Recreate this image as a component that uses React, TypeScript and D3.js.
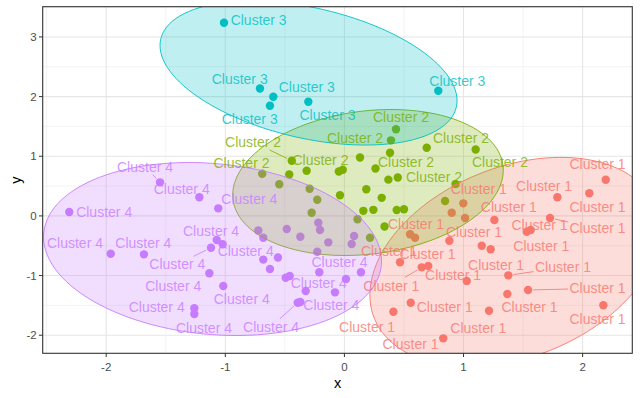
import React from 'react';
import * as d3 from 'd3';

const clusterNames = ['Cluster 1', 'Cluster 2', 'Cluster 3', 'Cluster 4'];
const clusterColors = ['#F8766D', '#7CAE00', '#00BFC4', '#C77CFF'];

const xTicks = [-2, -1, 0, 1, 2];
const yTicks = [-2, -1, 0, 1, 2, 3];
const xDomain = [-2.533, 2.417];
const yDomain = [-2.303, 3.507];

const cluster1Points: [number, number][] = [
  [2.194, 0.607], [2.056, 0.379], [1.788, 0.312], [1.726, -0.035], [1.531, -0.265],
  [1.564, -0.236], [1.259, -0.069], [1.013, -0.035], [0.998, 0.211], [0.901, 0.054],
  [0.881, -0.416], [1.153, -0.499], [1.228, -0.56], [0.551, -0.308], [0.593, -0.365],
  [0.467, -0.778], [0.649, -0.862], [0.704, -0.84], [1.027, -1.091], [1.376, -0.996],
  [1.542, -1.242], [1.368, -1.309], [2.174, -1.498], [1.214, -1.589], [0.557, -1.455],
  [0.411, -1.606], [0.83, -2.052],
];
const cluster2Points: [number, number][] = [
  [-0.442, 0.925], [-0.463, 0.694], [-0.317, 0.756], [-0.69, 0.706], [-0.547, 0.531],
  [-0.292, 0.456], [-0.228, 0.27], [-0.275, 0.052], [0.11, -0.055], [-0.037, 0.347],
  [0.184, 0.446], [-0.047, 0.744], [-0.014, 0.774], [0.131, 0.979], [0.261, 0.794],
  [0.369, 0.608], [0.448, 0.644], [0.313, 0.303], [0.159, 0.085], [0.243, 0.102],
  [0.383, 1.059], [0.391, 1.267], [0.433, 1.453], [0.337, -0.178], [0.439, 0.099],
  [0.5, 0.111], [0.691, 1.143], [1.102, 1.113], [0.215, -0.365], [0.845, 0.25],
  [0.933, 0.535],
];
const cluster3Points: [number, number][] = [
  [-1.011, 3.238], [-0.709, 2.135], [-0.597, 1.998], [-0.625, 1.847], [-0.303, 1.914],
  [0.788, 2.099],
];
const cluster4Points: [number, number][] = [
  [-2.31, 0.065], [-1.548, 0.563], [-1.218, 0.312], [-1.059, 0.127], [-1.962, -0.634],
  [-1.683, -0.644], [-1.072, -0.404], [-1.022, -0.476], [-1.12, -0.533], [-1.134, -0.962],
  [-1.017, -1.175], [-1.26, -1.549], [-1.26, -1.644], [-0.723, -0.245], [-0.681, -0.365],
  [-0.484, -0.22], [-0.37, -0.349], [-0.681, -0.732], [-0.558, -0.697], [-0.625, -0.89],
  [-0.493, -1.036], [-0.459, -1.007], [-0.325, -1.259], [-0.392, -1.455], [-0.37, -1.443],
  [-0.219, -0.114], [-0.205, -0.236], [-0.135, -0.443], [-0.228, -0.6], [0.081, -0.337],
  [0.061, -0.471], [-0.211, -0.945], [0.139, -0.945], [0.013, -1.058], [-0.079, -1.281],
];

// label position [x, y, index of point it is linked to by a segment, or -1]
const cluster1Labels: [number, number, number][] = [
  [2.125, 0.87, -1], [1.676, 0.501, -1], [2.125, 0.154, -1], [1.38, 0.144, -1],
  [1.128, 0.446, -1], [0.601, -0.13, -1], [1.088, -0.265, -1], [1.638, -0.153, -1],
  [2.125, -0.208, 3], [1.653, -0.505, -1], [0.374, -0.583, -1], [0.698, -0.639, -1],
  [1.273, -0.823, -1], [1.835, -0.862, 19], [0.912, -0.991, -1], [0.394, -1.167, 16],
  [2.125, -1.214, 20], [0.842, -1.522, -1], [1.554, -1.522, -1], [2.125, -1.728, -1],
  [0.19, -1.857, -1], [1.124, -1.874, -1], [0.555, -2.147, -1],
];
const cluster2Labels: [number, number, number][] = [
  [-0.767, 1.239, 0], [-0.864, 0.882, -1], [-0.201, 0.945, -1], [0.089, 1.301, -1],
  [0.475, 1.658, -1], [0.979, 1.301, -1], [0.517, 0.908, -1], [1.306, 0.898, -1],
  [0.752, 0.657, -1],
];
const cluster3Labels: [number, number, number][] = [
  [-0.72, 3.284, -1], [-0.879, 2.295, -1], [-0.316, 2.166, -1], [-0.795, 1.624, -1],
  [-0.142, 1.691, -1], [0.948, 2.266, -1],
];
const cluster4Labels: [number, number, number][] = [
  [-1.674, 0.825, 1], [-1.366, 0.446, -1], [-0.798, 0.283, -1], [-2.017, 0.07, -1],
  [-2.262, -0.459, -1], [-1.688, -0.459, -1], [-1.12, -0.248, -1], [-0.829, -0.588, -1],
  [-1.403, -0.811, 8], [-1.437, -1.17, -1], [-0.862, -1.398, -1], [-1.576, -1.522, -1],
  [-1.179, -1.874, -1], [-0.616, -1.857, 23], [-0.041, -0.768, -1], [-0.216, -1.13, -1],
  [-0.11, -1.498, -1],
];

// ellipse centre and shape matrix [sxx, sxy, syy] per cluster
const ellipseCenters: [number, number][] = [
  [1.432, -0.773], [0.198, 0.56], [-0.301, 2.395], [-1.107, -0.555],
];
const ellipseShapes: [number, number, number][] = [
  [1.484, 0.674, 3.078], [1.29, 0.236, 1.497], [1.555, -0.577, 1.457], [2.013, -0.286, 2.102],
];

const allPoints = [cluster1Points, cluster2Points, cluster3Points, cluster4Points];
const allLabels = [cluster1Labels, cluster2Labels, cluster3Labels, cluster4Labels];

const W = 640;
const H = 398;
const panel = { left: 42.7, right: 632.3, top: 6.7, bottom: 353.3 };

export default function App() {
  const x = d3.scaleLinear().domain(xDomain).range([panel.left, panel.right]);
  const y = d3.scaleLinear().domain(yDomain).range([panel.bottom, panel.top]);

  const minorX = xTicks.map((t) => t - 0.5).concat([xTicks[xTicks.length - 1] + 0.5])
    .filter((v) => v >= xDomain[0] && v <= xDomain[1]);
  const minorY = yTicks.map((t) => t - 0.5).concat([yTicks[yTicks.length - 1] + 0.5])
    .filter((v) => v >= yDomain[0] && v <= yDomain[1] + 0.001);

  const line = d3.line<[number, number]>().x((d) => x(d[0])).y((d) => y(d[1])).curve(d3.curveLinearClosed);

  const ellipsePath = (i: number) => {
    const [cx, cy] = ellipseCenters[i];
    const [sxx, sxy, syy] = ellipseShapes[i];
    const l11 = Math.sqrt(sxx);
    const l21 = sxy / l11;
    const l22 = Math.sqrt(syy - l21 * l21);
    const pts: [number, number][] = d3.range(120).map((k) => {
      const t = (k / 120) * 2 * Math.PI;
      const u = Math.cos(t);
      const v = Math.sin(t);
      return [cx + l11 * u, cy + l21 * u + l22 * v];
    });
    return line(pts) as string;
  };

  const fontFamily = '"Liberation Sans", Arial, sans-serif';
  const labelHalfW = 28.3;
  const labelHalfH = 7;
  const pointR = 4.2;

  const segment = (p: [number, number], l: [number, number]) => {
    const px = x(p[0]);
    const py = y(p[1]);
    const lx = x(l[0]);
    const ly = y(l[1]);
    const dx = px - lx;
    const dy = py - ly;
    const s = Math.min(
      Math.abs(dx) > 0 ? (labelHalfW + 1) / Math.abs(dx) : Infinity,
      Math.abs(dy) > 0 ? (labelHalfH + 1) / Math.abs(dy) : Infinity,
    );
    const bx = lx + s * dx;
    const by = ly + s * dy;
    const len = Math.hypot(px - bx, py - by);
    const shrink = Math.min(pointR + 1, len);
    const ex = px - ((px - bx) / len) * shrink;
    const ey = py - ((py - by) / len) * shrink;
    return { x1: bx, y1: by, x2: ex, y2: ey };
  };

  return (
    <svg width={W} height={H} style={{ position: 'absolute', left: 0, top: 0, background: '#fff' }}>
      <defs>
        <clipPath id="panel-clip">
          <rect x={panel.left} y={panel.top} width={panel.right - panel.left} height={panel.bottom - panel.top} />
        </clipPath>
      </defs>
      <rect x={0} y={0} width={W} height={H} fill="#ffffff" />
      <rect x={panel.left} y={panel.top} width={panel.right - panel.left} height={panel.bottom - panel.top} fill="#ffffff" />
      <g>
        {minorX.map((v) => (
          <line key={'mx' + v} x1={x(v)} x2={x(v)} y1={panel.top} y2={panel.bottom} stroke="#ebebeb" strokeWidth={0.6} />
        ))}
        {minorY.map((v) => (
          <line key={'my' + v} x1={panel.left} x2={panel.right} y1={y(v)} y2={y(v)} stroke="#ebebeb" strokeWidth={0.6} />
        ))}
        {xTicks.map((v) => (
          <line key={'gx' + v} x1={x(v)} x2={x(v)} y1={panel.top} y2={panel.bottom} stroke="#e6e6e6" strokeWidth={1.1} />
        ))}
        {yTicks.map((v) => (
          <line key={'gy' + v} x1={panel.left} x2={panel.right} y1={y(v)} y2={y(v)} stroke="#e6e6e6" strokeWidth={1.1} />
        ))}
      </g>
      <g clipPath="url(#panel-clip)">
        {allPoints.map((pts, ci) =>
          pts.map((p, i) => (
            <circle key={`p${ci}-${i}`} cx={x(p[0])} cy={y(p[1])} r={pointR} fill={clusterColors[ci]} />
          )),
        )}
        {clusterNames.map((name, ci) => (
          <path
            key={'e' + name}
            d={ellipsePath(ci)}
            fill={clusterColors[ci]}
            fillOpacity={0.25}
            stroke={clusterColors[ci]}
            strokeWidth={0.9}
          />
        ))}
        {allLabels.map((labs, ci) =>
          labs.map((l, i) => {
            if (l[2] < 0) return null;
            const s = segment(allPoints[ci][l[2]], [l[0], l[1]]);
            return (
              <line key={`s${ci}-${i}`} x1={s.x1} y1={s.y1} x2={s.x2} y2={s.y2} stroke={clusterColors[ci]} strokeOpacity={0.8} strokeWidth={1} />
            );
          }),
        )}
        {allLabels.map((labs, ci) =>
          labs.map((l, i) => (
            <text
              key={`t${ci}-${i}`}
              x={x(l[0])}
              y={y(l[1])}
              textAnchor="middle"
              dominantBaseline="central"
              fontFamily={fontFamily}
              fontSize={14}
              fill={clusterColors[ci]}
              fillOpacity={0.8}
            >
              {clusterNames[ci]}
            </text>
          )),
        )}
      </g>
      <rect
        x={panel.left}
        y={panel.top}
        width={panel.right - panel.left}
        height={panel.bottom - panel.top}
        fill="none"
        stroke="#333333"
        strokeWidth={1.1}
      />
      <g>
        {xTicks.map((v) => (
          <g key={'xt' + v}>
            <line x1={x(v)} x2={x(v)} y1={panel.bottom} y2={panel.bottom + 3.7} stroke="#333333" strokeWidth={1} />
            <text x={x(v)} y={panel.bottom + 13.5} textAnchor="middle" dominantBaseline="central" fontFamily={fontFamily} fontSize={11.5} fill="#4d4d4d">
              {String(v)}
            </text>
          </g>
        ))}
        {yTicks.map((v) => (
          <g key={'yt' + v}>
            <line x1={panel.left - 3.7} x2={panel.left} y1={y(v)} y2={y(v)} stroke="#333333" strokeWidth={1} />
            <text x={panel.left - 6} y={y(v)} textAnchor="end" dominantBaseline="central" fontFamily={fontFamily} fontSize={11.5} fill="#4d4d4d">
              {String(v)}
            </text>
          </g>
        ))}
      </g>
      <text x={(panel.left + panel.right) / 2} y={383} textAnchor="middle" dominantBaseline="central" fontFamily={fontFamily} fontSize={14.5} fill="#000">
        x
      </text>
      <text
        transform={`translate(15.5, ${(panel.top + panel.bottom) / 2}) rotate(-90)`}
        textAnchor="middle"
        dominantBaseline="central"
        fontFamily={fontFamily}
        fontSize={14.5}
        fill="#000"
      >
        y
      </text>
    </svg>
  );
}
